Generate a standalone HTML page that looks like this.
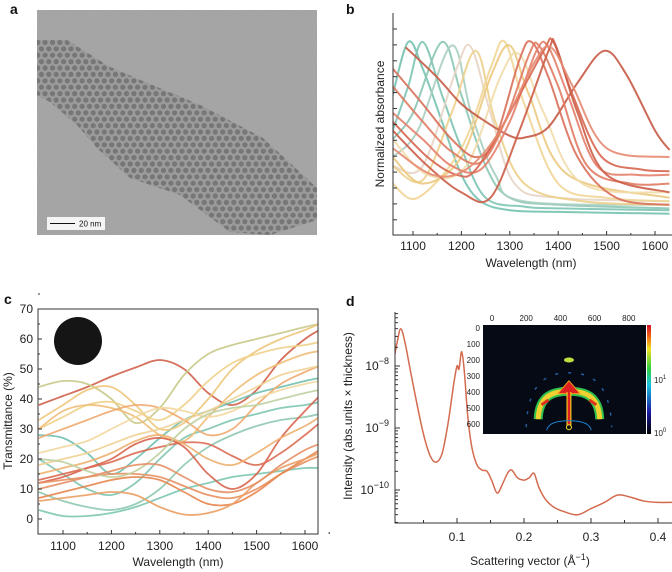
<!DOCTYPE html>
<html><head><meta charset="utf-8">
<style>
html,body{margin:0;padding:0;background:#fff;}
svg{display:block;font-family:"Liberation Sans",Arial,sans-serif;}
.t{font-size:12px;fill:#222;}
.lab{font-size:14px;font-weight:bold;fill:#111;}
</style></head>
<body>
<svg id="fig" width="672" height="572" viewBox="0 0 672 572">
<defs>
<clipPath id="clipA"><rect x="37" y="10" width="280" height="225"/></clipPath>
<clipPath id="clipBand"><polygon points="37,40 67,40 110,67 157,87 200,105 223,117 263,138 317,188 317,220 270,235 230,232 180,195 130,178 97,148 77,125 50,102 37,95"/></clipPath>
<clipPath id="clipB"><rect x="393" y="13" width="279" height="222"/></clipPath>
<clipPath id="clipC"><rect x="38" y="309" width="280" height="225"/></clipPath>
<clipPath id="clipD"><rect x="395" y="312" width="277" height="211"/></clipPath>
<linearGradient id="cbar" x1="0" y1="1" x2="0" y2="0">
<stop offset="0" stop-color="#000"/><stop offset="0.2" stop-color="#1a1aa0"/><stop offset="0.45" stop-color="#19c0e0"/><stop offset="0.6" stop-color="#30d040"/><stop offset="0.78" stop-color="#f0e020"/><stop offset="0.9" stop-color="#f06010"/><stop offset="1" stop-color="#d0102a"/>
</linearGradient>
<filter id="grain" x="0" y="0" width="100%" height="100%"><feTurbulence type="fractalNoise" baseFrequency="0.9" numOctaves="2" seed="3"/><feColorMatrix type="matrix" values="0 0 0 0 0.5  0 0 0 0 0.5  0 0 0 0 0.5  0 0 0 0.35 0"/></filter>
</defs>

<!-- Panel a -->
<text class="lab" x="10" y="14">a</text>
<g clip-path="url(#clipA)">
<rect x="37" y="10" width="280" height="225" fill="#a0a0a0"/>
<polygon points="37,40 67,40 110,67 157,87 200,105 223,117 263,138 317,188 317,220 270,235 230,232 180,195 130,178 97,148 77,125 50,102 37,95" fill="#949494"/>
<g id="dots" clip-path="url(#clipBand)"></g>
<rect x="37" y="10" width="280" height="225" filter="url(#grain)"/>
</g>
<g>
<rect x="47" y="217" width="58" height="13" fill="#f4f4f4"/>
<line x1="50" y1="223.5" x2="75" y2="223.5" stroke="#111" stroke-width="1"/>
<text x="79" y="226.5" font-size="8" fill="#111">20 nm</text>
</g>

<!-- Panel b -->
<text class="lab" x="346" y="14">b</text>
<g id="plotB"></g>

<!-- Panel c -->
<text class="lab" x="4" y="304">c</text>
<g id="plotC"></g>

<!-- Panel d -->
<text class="lab" x="346" y="306">d</text>
<g id="plotD"></g>
</svg>
<script>
const NS='http://www.w3.org/2000/svg';
function mk(parent,tag,attrs,text){const e=document.createElementNS(NS,tag);for(const k in attrs)e.setAttribute(k,attrs[k]);if(text!==undefined)e.textContent=text;parent.appendChild(e);return e;}
function smooth(pts){let d='M'+pts[0][0].toFixed(1)+','+pts[0][1].toFixed(1);for(let i=0;i<pts.length-1;i++){const p0=pts[i-1]||pts[i],p1=pts[i],p2=pts[i+1],p3=pts[i+2]||p2;const c1=[p1[0]+(p2[0]-p0[0])/6,p1[1]+(p2[1]-p0[1])/6],c2=[p2[0]-(p3[0]-p1[0])/6,p2[1]-(p3[1]-p1[1])/6];d+='C'+c1[0].toFixed(1)+','+c1[1].toFixed(1)+' '+c2[0].toFixed(1)+','+c2[1].toFixed(1)+' '+p2[0].toFixed(1)+','+p2[1].toFixed(1);}return d;}

// ---- Panel b data ----
const bColors=['#74c2b0','#7cc4b3','#8cc7b5','#a8cfc0','#e8d5c4','#edd08a','#f0d596','#ecc97e','#f1dcaa','#c65a45','#d9705a','#e07b62','#e3806a','#d76650','#cc5e48','#e58a72'];
const bCurves=[
[[1058,0.7],[1090,1],[1120,0.85],[1160,0.55],[1200,0.25],[1240,0.1],[1300,0.05],[1400,0.04],[1630,0.03]],
[[1058,0.5],[1090,0.75],[1120,1],[1160,0.7],[1200,0.4],[1250,0.12],[1330,0.07],[1400,0.06],[1630,0.05]],
[[1058,0.45],[1100,0.6],[1160,1],[1200,0.7],[1250,0.3],[1300,0.12],[1400,0.08],[1630,0.06]],
[[1058,0.35],[1110,0.5],[1180,0.98],[1220,0.6],[1270,0.25],[1330,0.1],[1630,0.08]],
[[1058,0.3],[1120,0.3],[1190,0.85],[1220,0.97],[1260,0.6],[1310,0.2],[1400,0.12],[1630,0.1]],
[[1058,0.3],[1120,0.22],[1180,0.6],[1230,0.95],[1270,0.55],[1330,0.2],[1450,0.1],[1630,0.08]],
[[1058,0.2],[1110,0.12],[1200,0.4],[1260,0.85],[1290,1],[1330,0.65],[1400,0.2],[1500,0.12],[1630,0.1]],
[[1058,0.35],[1120,0.2],[1200,0.35],[1260,0.8],[1300,0.98],[1340,0.7],[1420,0.25],[1630,0.12]],
[[1058,0.45],[1130,0.25],[1210,0.3],[1280,0.8],[1320,0.93],[1370,0.6],[1450,0.2],[1630,0.15]],
[[1085,0.97],[1150,0.8],[1200,0.65],[1250,0.55],[1300,0.47],[1330,0.46],[1380,0.52],[1440,0.77],[1495,0.95],[1540,0.82],[1600,0.5],[1630,0.39]],
[[1058,0.85],[1120,0.65],[1180,0.45],[1230,0.35],[1270,0.45],[1320,0.9],[1345,1],[1380,0.8],[1440,0.35],[1520,0.12],[1630,0.08]],
[[1058,0.75],[1120,0.55],[1180,0.38],[1240,0.32],[1290,0.55],[1340,0.93],[1360,0.98],[1400,0.75],[1460,0.3],[1550,0.2],[1630,0.2]],
[[1058,0.6],[1120,0.45],[1180,0.3],[1240,0.28],[1300,0.55],[1355,0.95],[1380,0.97],[1420,0.7],[1480,0.3],[1560,0.25],[1630,0.25]],
[[1058,0.55],[1130,0.35],[1190,0.25],[1230,0.28],[1300,0.6],[1370,0.95],[1390,1],[1430,0.7],[1490,0.35],[1570,0.28],[1630,0.27]],
[[1058,0.5],[1130,0.3],[1200,0.15],[1260,0.12],[1320,0.5],[1380,0.95],[1395,0.98],[1440,0.6],[1500,0.25],[1630,0.15]],
[[1058,0.4],[1140,0.25],[1210,0.28],[1280,0.5],[1350,0.88],[1385,0.97],[1430,0.75],[1500,0.4],[1630,0.35]]];
const bXTicks=[1100,1200,1300,1400,1500,1600];

// ---- Panel c data ----
const cWl=[1050,1100,1150,1200,1250,1300,1350,1400,1450,1500,1550,1600,1630];
const cColors=['#d0604a','#c9c98a','#6fc0b0','#7ec5b2','#7cc6b2','#8fc9b0','#edc77a','#f0d088','#efbe78','#eeaa70','#d96650','#dc6a52','#e99060','#e7864f','#eba064','#efd195','#f2d8a0','#eeb070','#bfd0a0','#e68f65'];
const cSeries=[
[38,41,44,47.5,50.5,53,50,42,38,43,53,60,63],
[44,46,45,40,32,37,48,55,58,60,62,64,65],
[28,27,22,15,20,27,33,36,39,42,44,46,47],
[20,15,10,8,12,20,27,30,33,35,37,38,39],
[3,1,1,2,4,7,10,12,14,15,16,17,17],
[9,6,4,3,5,10,18,24,28,31,33,34,35],
[33,38,43,44,38,30,32,40,50,56,60,63,65],
[30,34,38,39,36,33,38,46,52,55,57,58,59],
[30,36,38,37,34,28,26,34,42,48,52,55,56],
[27,30,33,36,38,37,33,28,30,38,45,49,51],
[12,14,17,20,25,27,24,15,10,15,27,36,41],
[13,15,17,19,22,24,25.5,25,21,18,22,28,32],
[12,13,14,15,15,14,11,8,7,10,15,19,21],
[7,9,11,13,14,13,9,5,5,9,15,20,23],
[6,7,8,9,8,4,1.5,2,5,12,17,20,22],
[18,20,22,25,28,30,33,36,40,44,48,50,51],
[22,24,26,30,34,37,36,34,36,40,43,45,46],
[15,17,19,22,26,28,25,20,18,22,27,31,34],
[20,19,16,14,16,22,30,35,37,38,40,42,43],
[10,12,14,16,18,18,14,10,9,12,18,23,25]];
const cXTicks=[1100,1200,1300,1400,1500,1600];
const cYTicks=[0,10,20,30,40,50,60,70];

// ---- Panel d data ----
const dQ=[0.0075,0.011,0.016,0.022,0.03,0.04,0.05,0.06,0.069,0.078,0.087,0.095,0.1,0.103,0.107,0.111,0.116,0.122,0.13,0.138,0.145,0.152,0.16,0.168,0.176,0.182,0.19,0.2,0.208,0.215,0.222,0.232,0.245,0.26,0.28,0.3,0.32,0.34,0.36,0.38,0.4,0.421];
const dLogI=[-7.8,-7.6,-7.4,-7.6,-8.05,-8.6,-9.1,-9.45,-9.55,-9.4,-8.9,-8.3,-8.0,-8.05,-7.77,-8.1,-8.8,-9.3,-9.6,-9.68,-9.7,-9.85,-10.05,-9.9,-9.72,-9.68,-9.8,-9.84,-9.8,-9.73,-9.95,-10.15,-10.28,-10.35,-10.4,-10.3,-10.2,-10.08,-10.12,-10.18,-10.2,-10.2];
const dXTicks=[0.1,0.2,0.3,0.4];
const dYDecades=[-10,-9,-8];

// ---- TEM dots ----
(function(){const g=document.getElementById('dots');for(let r=0;r<34;r++){for(let c=0;c<42;c++){const x=34+c*7.4+(r%2)*3.7,y=36+r*6.4;mk(g,'circle',{cx:x,cy:y,r:2.6,fill:'#5c5c5c','fill-opacity':0.8});}}})();

// ---- Panel b ----
(function(){const g=document.getElementById('plotB');
const x=w=>413+(w-1100)*0.484, y=v=>219-v*177;
const pl=mk(g,'g',{'clip-path':'url(#clipB)'});
bCurves.forEach((c,i)=>{const p=mk(pl,'path',{d:smooth(c.map(q=>[x(q[0]),y(q[1])])),fill:'none',stroke:bColors[i],'stroke-width':2,'stroke-opacity':0.9});

});
mk(g,'path',{d:'M393,13V235H672',fill:'none',stroke:'#333','stroke-width':1});
for(let k=0;k<13;k++){mk(g,'line',{x1:393,x2:397,y1:29+k*15.9,y2:29+k*15.9,stroke:'#333'});}
bXTicks.forEach(t=>{mk(g,'line',{x1:x(t),x2:x(t),y1:235,y2:231,stroke:'#333'});mk(g,'line',{x1:x(t+50),x2:x(t+50),y1:235,y2:233,stroke:'#333'});
const tl=mk(g,'text',{x:x(t),y:250,'text-anchor':'middle',class:'t'},t);

});
const xt=mk(g,'text',{x:531,y:267,'text-anchor':'middle',class:'t'},'Wavelength (nm)');

const yt=mk(g,'text',{x:0,y:0,'text-anchor':'middle',class:'t',transform:'translate(384,124) rotate(-90)'},'Normalized absorbance');

})();

// ---- Panel c ----
(function(){const g=document.getElementById('plotC');
const x=w=>63+(w-1100)*0.484, y=v=>519-v*3;
const pl=mk(g,'g',{'clip-path':'url(#clipC)'});
cSeries.forEach((s,i)=>{const p=mk(pl,'path',{d:smooth(s.map((v,j)=>[x(cWl[j]),y(v)])),fill:'none',stroke:cColors[i],'stroke-width':1.8,'stroke-opacity':0.9});

});
const disk=mk(g,'circle',{cx:78,cy:341,r:24,fill:'#151515'});

mk(g,'rect',{x:38,y:309,width:280,height:225,fill:'none',stroke:'#333'});
cYTicks.forEach(t=>{mk(g,'line',{x1:38,x2:42,y1:y(t),y2:y(t),stroke:'#333'});mk(g,'line',{x1:38,x2:40,y1:y(t+5),y2:y(t+5),stroke:'#333'});
const tl=mk(g,'text',{x:33,y:y(t)+4,'text-anchor':'end',class:'t'},t);
});
cXTicks.forEach(t=>{mk(g,'line',{x1:x(t),x2:x(t),y1:534,y2:530,stroke:'#333'});mk(g,'line',{x1:x(t+50),x2:x(t+50),y1:534,y2:532,stroke:'#333'});
const tl=mk(g,'text',{x:x(t),y:550,'text-anchor':'middle',class:'t'},t);
});
const xt=mk(g,'text',{x:178,y:566,'text-anchor':'middle',class:'t'},'Wavelength (nm)');

const yt=mk(g,'text',{x:0,y:0,'text-anchor':'middle',class:'t',transform:'translate(12,421) rotate(-90)'},'Transmittance (%)');

})();

// ---- Panel d ----
(function(){const g=document.getElementById('plotD');
const x=q=>390+q*670, y=l=>366-(l+8)*62;
const pl=mk(g,'g',{'clip-path':'url(#clipD)'});
const p=mk(pl,'path',{d:smooth(dQ.map((q,i)=>[x(q),y(dLogI[i])])),fill:'none',stroke:'#d46a4e','stroke-width':1.5});

mk(g,'path',{d:'M395,312V523H672',fill:'none',stroke:'#333'});
dYDecades.forEach(dd=>{mk(g,'line',{x1:395,x2:400,y1:y(dd),y2:y(dd),stroke:'#333'});
for(let m=2;m<10;m++){const yy=y(dd+Math.log10(m));if(yy>312)mk(g,'line',{x1:395,x2:398,y1:yy,y2:yy,stroke:'#333'});}
const tl=mk(g,'text',{x:389,y:y(dd)+4,'text-anchor':'end',class:'t'});

tl.appendChild(document.createTextNode('10'));mk(tl,'tspan',{dy:-6,'font-size':9},'−'+(-dd));});
for(let m=2;m<10;m++){const yy=y(-11+Math.log10(m));if(yy<523)mk(g,'line',{x1:395,x2:398,y1:yy,y2:yy,stroke:'#333'});}
dXTicks.forEach(t=>{mk(g,'line',{x1:x(t),x2:x(t),y1:523,y2:518,stroke:'#333'});mk(g,'line',{x1:x(t-0.05),x2:x(t-0.05),y1:523,y2:520,stroke:'#333'});
const tl=mk(g,'text',{x:x(t),y:541,'text-anchor':'middle',class:'t'},t);
});
const xt=mk(g,'text',{x:530,y:565,'text-anchor':'middle',class:'t'});

xt.appendChild(document.createTextNode('Scattering vector (Å'));mk(xt,'tspan',{dy:-5,'font-size':9},'−1');mk(xt,'tspan',{dy:5},')');
const yt=mk(g,'text',{x:0,y:0,'text-anchor':'middle',class:'t',transform:'translate(352,416) rotate(-90)'},'Intensity (abs.units × thickness)');

// inset
const ins=mk(g,'g',{});

const ix=v=>492+v*0.171, iy=v=>328+v*0.16;
mk(ins,'rect',{x:483,y:325,width:163,height:109,fill:'#050a14'});
const arc=`M${ix(270)},${iy(570)} C${ix(275)},${iy(420)} ${ix(360)},${iy(395)} ${ix(450)},${iy(395)} C${ix(540)},${iy(395)} ${ix(625)},${iy(420)} ${ix(630)},${iy(570)}`;
mk(ins,'path',{d:arc,fill:'none',stroke:'#30c050','stroke-width':9});
mk(ins,'path',{d:arc,fill:'none',stroke:'#f0d030','stroke-width':5});
mk(ins,'path',{d:`M${ix(290)},${iy(480)} L${ix(330)},${iy(450)}`,stroke:'#e03020','stroke-width':3});
mk(ins,'path',{d:`M${ix(610)},${iy(480)} L${ix(570)},${iy(450)}`,stroke:'#e03020','stroke-width':3});
mk(ins,'polygon',{points:`${ix(450)},${iy(330)} ${ix(385)},${iy(410)} ${ix(515)},${iy(410)}`,fill:'#e02020',stroke:'#f0a020'});
mk(ins,'path',{d:`M${ix(450)},${iy(400)}V${iy(610)}`,stroke:'#f0c020','stroke-width':5});
mk(ins,'path',{d:`M${ix(450)},${iy(400)}V${iy(610)}`,stroke:'#e02020','stroke-width':2.5});
mk(ins,'circle',{cx:ix(450),cy:iy(620),r:2.5,fill:'#111',stroke:'#f0e030'});
mk(ins,'ellipse',{cx:ix(450),cy:iy(200),rx:5,ry:2.5,fill:'#c0e040'});
mk(ins,'path',{d:`M${ix(200)},${iy(620)} C${ix(210)},${iy(330)} ${ix(330)},${iy(280)} ${ix(450)},${iy(280)} C${ix(570)},${iy(280)} ${ix(690)},${iy(330)} ${ix(700)},${iy(620)}`,fill:'none',stroke:'#3070c0','stroke-width':1.5,'stroke-dasharray':'3 10','stroke-opacity':0.8});
mk(ins,'path',{d:`M${ix(320)},${iy(640)} Q${ix(330)},${iy(580)} ${ix(450)},${iy(580)} Q${ix(570)},${iy(580)} ${ix(580)},${iy(640)}`,fill:'none',stroke:'#2080d0','stroke-width':1});
[0,200,400,600,800].forEach(v=>{mk(ins,'text',{x:ix(v),y:321,'text-anchor':'middle','font-size':8,fill:'#222'},v);});
[0,100,200,300,400,500,600].forEach(v=>{mk(ins,'text',{x:480,y:iy(v)+3,'text-anchor':'end','font-size':8,fill:'#222'},v);});
const cb=mk(ins,'rect',{x:647,y:325,width:4,height:109,fill:'url(#cbar)'});

const l1=mk(ins,'text',{x:654,y:383,'font-size':8,fill:'#222'},'10');mk(l1,'tspan',{dy:-4,'font-size':6},'1');
const l0=mk(ins,'text',{x:654,y:436,'font-size':8,fill:'#222'},'10');mk(l0,'tspan',{dy:-4,'font-size':6},'0');
})();
</script>
</body></html>
